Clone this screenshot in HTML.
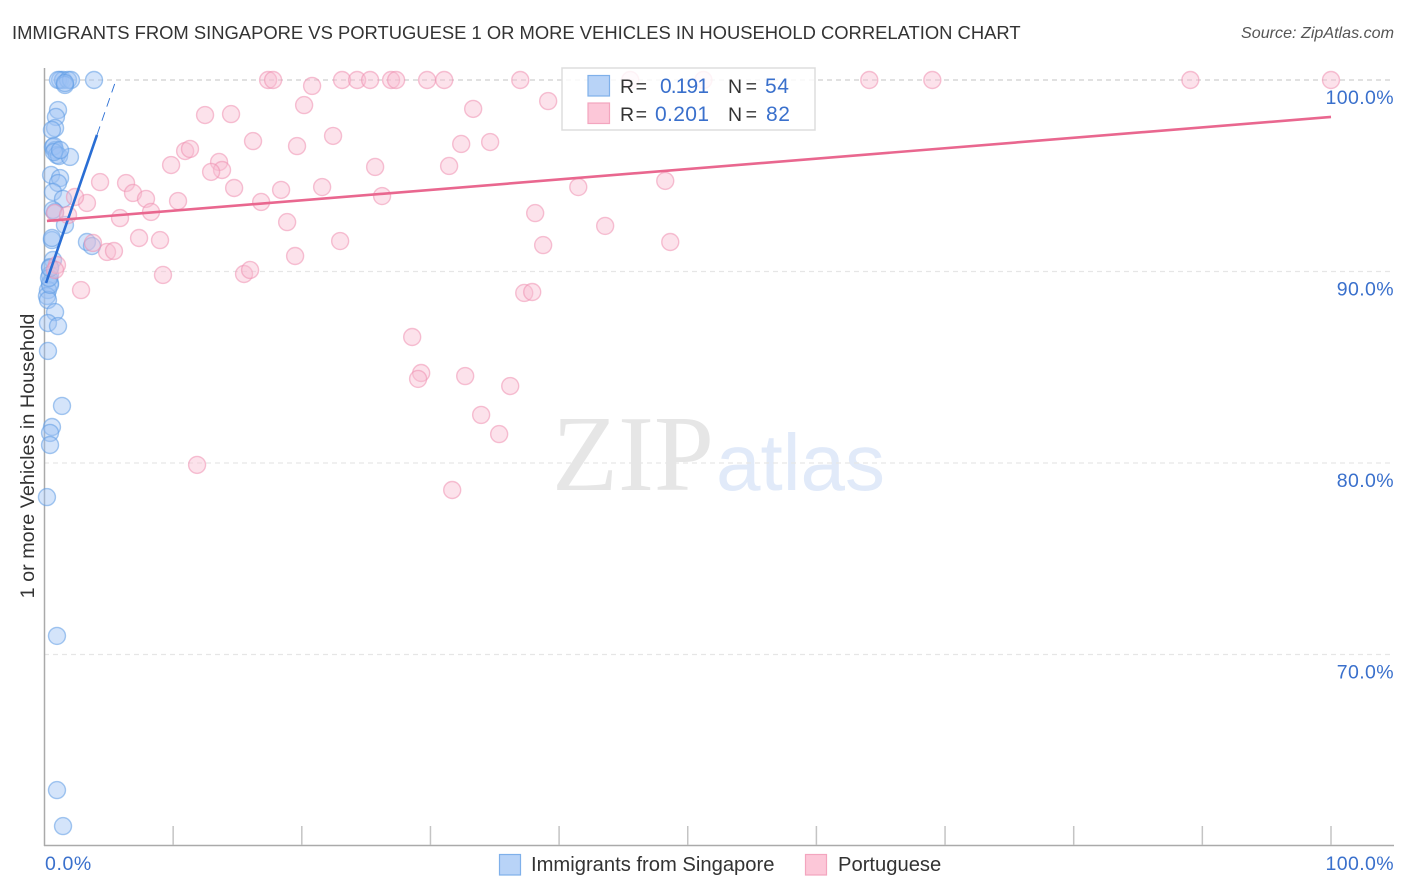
<!DOCTYPE html>
<html>
<head>
<meta charset="utf-8">
<title>Immigrants from Singapore vs Portuguese correlation chart</title>
<style>
html,body{margin:0;padding:0;background:#fff;width:1406px;height:892px;overflow:hidden}
svg{display:block;font-family:"Liberation Sans",sans-serif}
</style>
</head>
<body>
<svg id="chart" width="1406" height="892" viewBox="0 0 1406 892">
  <text x="12" y="39" font-size="18.4" fill="#333">IMMIGRANTS FROM SINGAPORE VS PORTUGUESE 1 OR MORE VEHICLES IN HOUSEHOLD CORRELATION CHART</text>
  <text x="1394" y="38" font-size="16.1" font-style="italic" text-anchor="end" fill="#555">Source: ZipAtlas.com</text>
  <text x="552" y="490" font-family="'Liberation Serif',serif" font-size="108" fill="#e6e6e6">ZIP</text>
  <text x="716" y="490" font-size="80" fill="#e1eaf9">atlas</text>
  <g id="grid"></g>
  <g id="axes"></g>
  <g id="blue-points"></g>
  <g id="pink-points"></g>
  <g id="trends"></g>
  <g id="tick-labels"></g>
  <text transform="translate(34 456) rotate(-90)" font-size="19.8" text-anchor="middle" fill="#333">1 or more Vehicles in Household</text>

  <g>
    <rect x="562" y="68" width="253" height="62" fill="#fff" fill-opacity="0.82" stroke="#dddddd" stroke-width="1.5"></rect>
    <rect x="588" y="75.500" width="21.500" height="20.500" fill="#b8d3f7" stroke="#7fb0ea" stroke-width="1.200"></rect>
    <rect x="588" y="103" width="21.500" height="20.500" fill="#fcc7d8" stroke="#f3a5bf" stroke-width="1.200"></rect>
    <text x="620" y="93" font-size="19.5" textLength="27" fill="#333">R =</text>
    <text x="660" y="93" font-size="21" textLength="49" fill="#3a70cc">0.191</text>
    <text x="728" y="93" font-size="19.5" textLength="29" fill="#333">N =</text>
    <text x="765" y="93" font-size="21" letter-spacing="0.6" fill="#3a70cc">54</text>
    <text x="620" y="121" font-size="19.5" textLength="27" fill="#333">R =</text>
    <text x="655" y="121" font-size="21" textLength="54" fill="#3a70cc">0.201</text>
    <text x="728" y="121" font-size="19.5" textLength="29" fill="#333">N =</text>
    <text x="766" y="121" font-size="21" letter-spacing="0.6" fill="#3a70cc">82</text>
  </g>

  <g>
    <rect x="499.500" y="854.500" width="21" height="20.500" fill="#b8d3f7" stroke="#7fb0ea" stroke-width="1.200"></rect>
    <text x="531" y="871" font-size="20.2" fill="#333">Immigrants from Singapore</text>
    <rect x="805.500" y="854.500" width="21" height="20.500" fill="#fcc7d8" stroke="#f3a5bf" stroke-width="1.200"></rect>
    <text x="838" y="871" font-size="20.2" fill="#333">Portuguese</text>
  </g>
</svg>
<script>
var blueX = [1.21,1.44,1.05,1.83,2.06,1.59,1.59,3.85,1.05,0.89,0.82,0.58,0.66,0.82,0.74,0.97,1.13,1.98,0.51,1.21,1.05,0.66,1.44,0.82,1.59,0.58,0.58,3.30,3.69,0.66,0.43,0.43,0.43,0.27,0.19,0.27,0.82,0.27,1.05,0.27,1.36,0.58,0.43,0.43,0.19,0.97,0.97,1.44,0.74,0.66,0.43,0.35,0.43,1.21];
var blueY = [100,100,100,100,100,99.74,99.84,100,98.43,98.07,97.49,97.39,96.5,96.34,96.55,96.08,96.03,95.98,95.04,94.88,94.62,94.15,93.79,93.11,92.43,91.64,91.75,91.54,91.33,90.6,90.23,89.82,89.4,89.03,88.72,88.51,87.88,87.31,87.15,85.85,82.98,81.88,81.57,80.94,78.22,70.97,62.92,61.04,96.24,93.21,89.3,89.66,90.18,96.34];
var pinkX = [17.38,17.77,23.13,24.3,25.31,26.94,27.33,29.74,31.07,36.98,45.53,51.22,64.11,69.01,89.07,100,20.8,20.18,33.32,39.15,12.48,14.5,16.21,22.43,19.63,10.93,11.31,9.84,13.57,13.8,12.95,25.7,31.45,32.39,34.64,4.32,6.34,6.88,7.89,14.74,16.84,18.39,21.58,26.24,41.49,48.25,10.38,8.28,5.87,3.3,2.37,18.86,38.14,43.58,7.35,8.98,22.98,38.76,48.64,4.86,5.4,3.77,19.48,9.21,15.51,15.98,2.84,37.29,37.91,28.58,29.28,29.04,32.7,36.2,33.94,35.34,11.86,31.69,0.82,1.83,0.97,0.82];
var pinkY = [100,100,100,100,100,100,100,100,100,100,100,100,100,100,100,100,99.69,98.69,98.49,98.9,98.17,98.22,96.81,97.08,96.55,96.29,96.4,95.56,95.72,95.3,95.2,95.46,95.51,96.66,96.76,94.67,94.62,94.1,93.79,94.36,93.63,94.26,94.41,93.94,94.41,94.73,93.68,93.11,92.79,93.58,93.89,92.58,93.05,92.38,91.75,91.64,91.59,91.38,91.54,91.02,91.07,91.49,90.81,89.82,89.87,90.08,89.03,88.88,88.93,86.58,84.7,84.39,84.54,84.02,82.51,81.51,79.9,78.59,93.05,92.95,90.34,90.08];
var blueTrendX = [0.12,4.08];
var blueTrendY = [89.4,97.13];
var blueDashX = [4.08,5.56];
var blueDashY = [97.13,100];
var pinkTrendX = [0.19,100];
var pinkTrendY = [92.64,98.07];
var yTicks = [100,90,80,70];
var yTickLabels = ["100.0%","90.0%","80.0%","70.0%"];
var xTicks = [10,20,30,40,50,60,70,80,90,100];
var xEndLabels = ["0.0%","100.0%"];

var NS = "http://www.w3.org/2000/svg";
function xPos(v){ return 44.5 + v * 12.865; }
function yPos(v){ return 80 + (100 - v) * 19.15; }
function make(tag, attrs, parent){
  var el = document.createElementNS(NS, tag);
  for (var k in attrs) el.setAttribute(k, attrs[k]);
  parent.appendChild(el);
  return el;
}

var gridG = document.getElementById("grid");
yTicks.forEach(function(t, i){
  var el = make("line", {x1:44, x2:1394, y1:yPos(t), y2:yPos(t), stroke:i===0?"#cfcfcf":"#e6e6e6", "stroke-width":1.2, "stroke-dasharray":"5 4"}, gridG);
  
  
});

var axesG = document.getElementById("axes");
var yAxis = make("line", {x1:44.5, x2:44.5, y1:68, y2:846, stroke:"#aaaaaa", "stroke-width":1.5}, axesG);


var xAxis = make("line", {x1:44, x2:1394, y1:845.5, y2:845.5, stroke:"#aaaaaa", "stroke-width":1.5}, axesG);


xTicks.forEach(function(t){
  var el = make("line", {x1:xPos(t), x2:xPos(t), y1:826, y2:845, stroke:"#c4c4c4", "stroke-width":1.5}, axesG);
  
  
});

function drawPoints(xs, ys, groupId, fill, stroke, name){
  var g = document.getElementById(groupId);
  xs.forEach(function(x, i){
    var c = make("circle", {cx:xPos(x), cy:yPos(ys[i]), r:8.5, fill:fill, "fill-opacity":0.44, stroke:stroke, "stroke-opacity":0.55, "stroke-width":1.4}, g);
    
    
  });
}
drawPoints(blueX, blueY, "blue-points", "#9cc2f3", "#5c9be4", "singapore-point");
drawPoints(pinkX, pinkY, "pink-points", "#f9bdd1", "#ee8fb0", "portuguese-point");

var trendG = document.getElementById("trends");
var tb = make("line", {x1:xPos(blueTrendX[0]), y1:yPos(blueTrendY[0]), x2:xPos(blueTrendX[1]), y2:yPos(blueTrendY[1]), stroke:"#2a6ed4", "stroke-width":2.6}, trendG);


var td = make("line", {x1:xPos(blueDashX[0]), y1:yPos(blueDashY[0]), x2:xPos(blueDashX[1]), y2:yPos(blueDashY[1]), stroke:"#2a6ed4", "stroke-width":0.9, "stroke-dasharray":"9 6"}, trendG);


var tp = make("line", {x1:xPos(pinkTrendX[0]), y1:yPos(pinkTrendY[0]), x2:xPos(pinkTrendX[1]), y2:yPos(pinkTrendY[1]), stroke:"#e9678f", "stroke-width":2.6}, trendG);



var labelsG = document.getElementById("tick-labels");
yTicks.forEach(function(t, i){
  var el = make("text", {x:1394, y:yPos(t) + 24, "font-size":19.5, "letter-spacing":0.4, "text-anchor":"end", fill:"#3a70cc"}, labelsG);
  el.textContent = yTickLabels[i];
  
  
});
var x0 = make("text", {x:45, y:870, "font-size":19.5, "letter-spacing":0.6, fill:"#3a70cc"}, labelsG);
x0.textContent = xEndLabels[0];


var x1 = make("text", {x:1394, y:870, "font-size":19.5, "letter-spacing":0.4, "text-anchor":"end", fill:"#3a70cc"}, labelsG);
x1.textContent = xEndLabels[1];


</script>
</body>
</html>
